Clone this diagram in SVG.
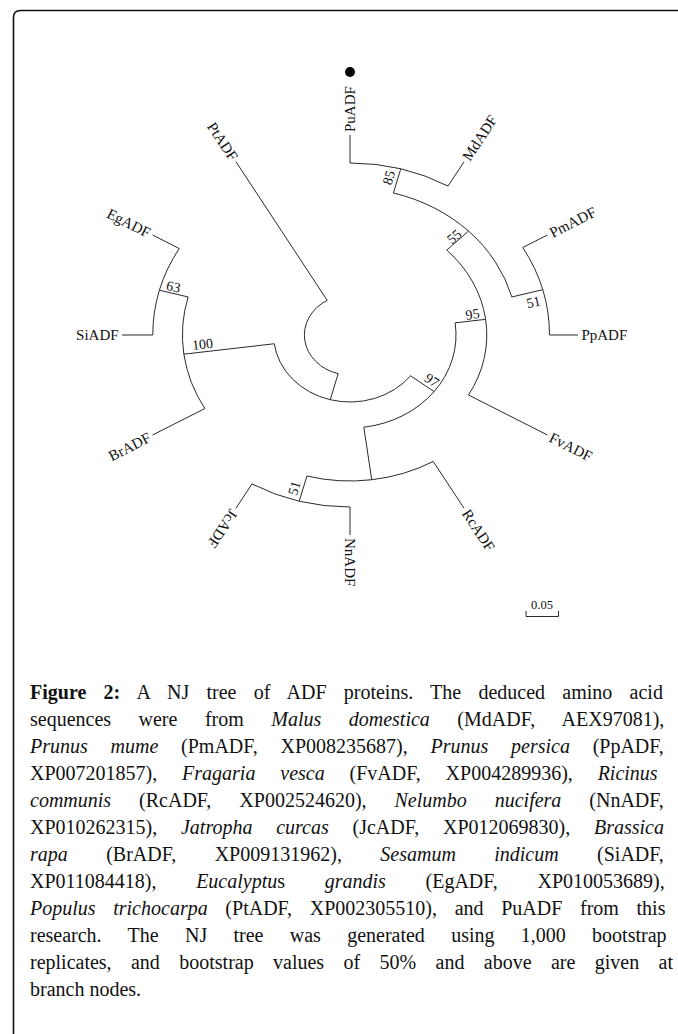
<svg xmlns="http://www.w3.org/2000/svg" width="678" height="1034" viewBox="0 0 678 1034">
<style>
.br{fill:none;stroke:#2a2a2a;stroke-width:1}
.lf{font-family:"Liberation Serif","Times New Roman",serif;font-size:15px;fill:#111}
.bs{font-family:"Liberation Serif","Times New Roman",serif;font-size:14px;fill:#111;text-anchor:middle}
.cap{font-family:"Liberation Serif","Times New Roman",serif;font-size:20px;fill:#111}
.it{font-style:italic}
</style>
<rect width="678" height="1034" fill="#fff"/>
<path id="frame" d="M13.5,1034 V17.5 Q13.5,10.5 20.5,10.5 H678" fill="none" stroke="#111" stroke-width="1.6"/>
<g id="connectors" class="br">
<path d="M327.20,300.36 A45.6,40 0 0 0 338.20,373.64"/>
<path d="M338.20,373.64 L330.23,399.72"/>
<path d="M410.60,375.79 A76.38,67 0 0 1 274.28,343.74"/>
<path d="M274.28,343.74 L183.86,354.18"/>
<path d="M204.88,408.5 A167.58,147 0 0 1 188.13,296.96"/>
<path d="M204.88,408.5 L152.55,435"/>
<path d="M188.13,296.96 L159.50,290.23"/>
<path d="M152.78,335 A197.22,173 0 0 1 179.21,248.5"/>
<path d="M152.78,335 L122,335"/>
<path d="M179.21,248.5 L152.55,235"/>
<path d="M410.60,375.79 L434.12,391.62"/>
<path d="M455.11,322.86 A106.02,93 0 0 1 363.84,427.20"/>
<path d="M455.11,322.86 L485.62,319.34"/>
<path d="M446.73,250.15 A136.8,120 0 0 1 468.47,395"/>
<path d="M468.47,395 L547.45,435"/>
<path d="M446.73,250.15 L468.50,231.06"/>
<path d="M393.37,193.01 A167.58,147 0 0 1 511.87,296.96"/>
<path d="M393.37,193.01 L400.75,168.87"/>
<path d="M350,163 A196.08,172 0 0 1 448.04,186.05"/>
<path d="M350,163 L350,135"/>
<path d="M448.04,186.05 L464,161.8"/>
<path d="M511.87,296.96 L542.70,289.71"/>
<path d="M522.77,247.5 A199.5,175 0 0 1 549.5,335"/>
<path d="M522.77,247.5 L547.45,235"/>
<path d="M549.5,335 L578,335"/>
<path d="M363.84,427.20 L371.72,479.74"/>
<path d="M433.22,461.44 A166.44,146 0 0 1 306.92,476.02"/>
<path d="M433.22,461.44 L464,508.2"/>
<path d="M306.92,476.02 L299.25,501.13"/>
<path d="M350,507 A196.08,172 0 0 1 251.96,483.95"/>
<path d="M350,507 L350,535"/>
<path d="M251.96,483.95 L236,508.2"/>
<path d="M327.20,300.36 L236,161.8"/>
</g>
<g id="leaf-PuADF"><circle cx="350" cy="72" r="5" fill="#000"/><text class="lf" transform="translate(350,132) rotate(-90)" dy="0.34em">PuADF</text></g>
<g id="leaf-MdADF"><text class="lf" transform="translate(465.71,159.2) rotate(-56.6)" dy="0.34em">MdADF</text></g>
<g id="leaf-PmADF"><text class="lf" transform="translate(550.41,233.5) rotate(-26.9)" dy="0.34em">PmADF</text></g>
<g id="leaf-PpADF"><text class="lf" transform="translate(581.42,335)" dy="0.34em">PpADF</text></g>
<g id="leaf-FvADF"><text class="lf" transform="translate(550.41,436.5) rotate(26.9)" dy="0.34em">FvADF</text></g>
<g id="leaf-RcADF"><text class="lf" transform="translate(465.71,510.8) rotate(56.6)" dy="0.34em">RcADF</text></g>
<g id="leaf-NnADF"><text class="lf" transform="translate(350,538) rotate(90)" dy="0.34em">NnADF</text></g>
<g id="leaf-JcADF"><text class="lf" transform="translate(234.29,510.8) rotate(123.4)" dy="0.34em">JcADF</text></g>
<g id="leaf-BrADF"><text class="lf" text-anchor="end" transform="translate(149.59,436.5) rotate(-26.9)" dy="0.34em">BrADF</text></g>
<g id="leaf-SiADF"><text class="lf" text-anchor="end" transform="translate(118.58,335)" dy="0.34em">SiADF</text></g>
<g id="leaf-EgADF"><text class="lf" text-anchor="end" transform="translate(149.59,233.5) rotate(26.9)" dy="0.34em">EgADF</text></g>
<g id="leaf-PtADF"><text class="lf" text-anchor="end" transform="translate(234.29,159.2) rotate(56.6)" dy="0.34em">PtADF</text></g>
<g id="node-85"><text class="bs" transform="translate(388.5,177.5) rotate(-73)" dy="0.35em">85</text></g>
<g id="node-55"><text class="bs" transform="translate(454,236.5) rotate(-41)" dy="0.35em">55</text></g>
<g id="node-51a"><text class="bs" transform="translate(533.5,302) rotate(-13)" dy="0.35em">51</text></g>
<g id="node-95"><text class="bs" transform="translate(472.5,314) rotate(-8.5)" dy="0.35em">95</text></g>
<g id="node-97"><text class="bs" transform="translate(432,380) rotate(34)" dy="0.35em">97</text></g>
<g id="node-63"><text class="bs" transform="translate(173.5,286.5) rotate(13)" dy="0.35em">63</text></g>
<g id="node-100"><text class="bs" transform="translate(202.5,344) rotate(-6.6)" dy="0.35em">100</text></g>
<g id="node-51b"><text class="bs" transform="translate(294,488) rotate(-73)" dy="0.35em">51</text></g>
<g id="scale-bar"><path class="br" d="M526,611 V616.5 H558.5 V611"/><text x="542" y="609" font-family="Liberation Serif, serif" font-size="12.5" text-anchor="middle" fill="#111">0.05</text></g>
<g id="caption">
<text class="cap" x="30" y="699" word-spacing="12.26"><tspan font-weight="bold">Figure 2:</tspan> A NJ tree of ADF proteins. The deduced amino acid</text>
<text class="cap" x="30" y="726" word-spacing="22.48">sequences were from <tspan class="it">Malus domestica</tspan> (MdADF, AEX97081),</text>
<text class="cap" x="30" y="753" word-spacing="17.74"><tspan class="it">Prunus mume</tspan> (PmADF, XP008235687), <tspan class="it">Prunus persica</tspan> (PpADF,</text>
<text class="cap" x="30" y="780" word-spacing="19.85">XP007201857), <tspan class="it">Fragaria vesca</tspan> (FvADF, XP004289936), <tspan class="it">Ricinus</tspan></text>
<text class="cap" x="30" y="807" word-spacing="22.96"><tspan class="it">communis</tspan> (RcADF, XP002524620), <tspan class="it">Nelumbo nucifera</tspan> (NnADF,</text>
<text class="cap" x="30" y="834" word-spacing="18.74">XP010262315), <tspan class="it">Jatropha curcas</tspan> (JcADF, XP012069830), <tspan class="it">Brassica</tspan></text>
<text class="cap" x="30" y="861" word-spacing="33.4"><tspan class="it">rapa</tspan> (BrADF, XP009131962), <tspan class="it">Sesamum indicum</tspan> (SiADF,</text>
<text class="cap" x="30" y="888" word-spacing="34.67">XP011084418), <tspan class="it">Eucalyptu</tspan>s <tspan class="it">grandis</tspan> (EgADF, XP010053689),</text>
<text class="cap" x="30" y="915" word-spacing="12.67"><tspan class="it">Populus trichocarpa</tspan> (PtADF, XP002305510), and PuADF from this</text>
<text class="cap" x="30" y="942" word-spacing="21.3">research. The NJ tree was generated using 1,000 bootstrap</text>
<text class="cap" x="30" y="969" word-spacing="14.37">replicates, and bootstrap values of 50% and above are given at</text>
<text class="cap" x="30" y="996">branch nodes.</text>
</g>
</svg>
